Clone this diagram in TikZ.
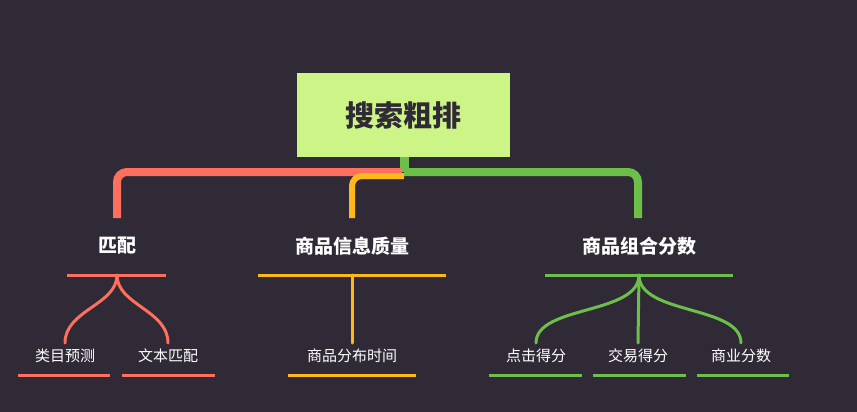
\documentclass[tikz,border=0pt]{standalone}
\usepackage{fontspec}
\setmainfont{Noto Sans CJK SC}
\begin{document}
\begin{tikzpicture}[x=1pt,y=-1pt,
  lv1/.style={text=white,font=\bfseries\fontsize{19}{22}\selectfont,inner sep=0},
  lv2/.style={text=white,font=\fontsize{15}{18}\selectfont,inner sep=0},
  ul/.style={line width=3pt},
  br/.style={line width=3pt,line cap=round}]
\definecolor{bg}{HTML}{2F2A35}
\definecolor{cr}{HTML}{FF6F5E}
\definecolor{co}{HTML}{FFB81C}
\definecolor{cg}{HTML}{6CC04A}
\definecolor{rootc}{HTML}{CCF486}
\fill[bg] (0,0) rectangle (857,412);
\useasboundingbox (0,0) rectangle (857,412);
% root connectors
\draw[cg,line width=9pt] (404,150) -- (404,172);
\draw[cr,line width=8pt,rounded corners=10pt] (402,172) -- (117,172) -- (117,218);
\draw[cg,line width=8pt,rounded corners=10pt] (404,172) -- (638,172) -- (638,218);
\draw[co,line width=6pt,rounded corners=10pt] (404,176) -- (352,176) -- (352,218);
\node[fill=rootc,minimum width=213pt,minimum height=84pt,inner sep=0,
  font=\bfseries\fontsize{29}{34}\selectfont,text={rgb,255:red,47;green,42;blue,53}] (root) at (403.5,115) {搜索粗排};
% level 1
\node[lv1] (a) at (117,246) {匹配};
\node[lv1] (b) at (352,246) {商品信息质量};
\node[lv1] (c) at (639,246) {商品组合分数};
\coordinate (au) at (117,275); \coordinate (bu) at (352,275); \coordinate (cu) at (639,275);
\draw[cr,ul] (67,275) -- (166,275);
\draw[co,ul] (258,275) -- (446,275);
\draw[cg,ul] (545,275) -- (733,275);
% level 2
\node[lv2] (a1) at (65,356) {类目预测};
\node[lv2] (a2) at (168,356) {文本匹配};
\node[lv2] (b1) at (352,356) {商品分布时间};
\node[lv2] (c1) at (536,356) {点击得分};
\node[lv2] (c2) at (638,356) {交易得分};
\node[lv2] (c3) at (741,356) {商业分数};
\draw[cr,ul] (18,375) -- (110,375);
\draw[cr,ul] (122,375) -- (215,375);
\draw[co,ul] (288,375) -- (416,375);
\draw[cg,ul] (489,375) -- (582,375);
\draw[cg,ul] (593,375) -- (686,375);
\draw[cg,ul] (697,375) -- (789,375);
% branches
\draw[cr,br] (au) .. controls (117,305) and (65,310) .. (65,343);
\draw[cr,br] (au) .. controls (117,305) and (168,310) .. (168,343);
\draw[co,br] (bu) -- (352,343);
\draw[cg,br] (cu) .. controls (639,315) and (536,305) .. (536,343);
\draw[cg,br] (cu) -- (638,343);
\draw[cg,br] (cu) .. controls (639,315) and (741,305) .. (741,343);
\end{tikzpicture}
\end{document}
